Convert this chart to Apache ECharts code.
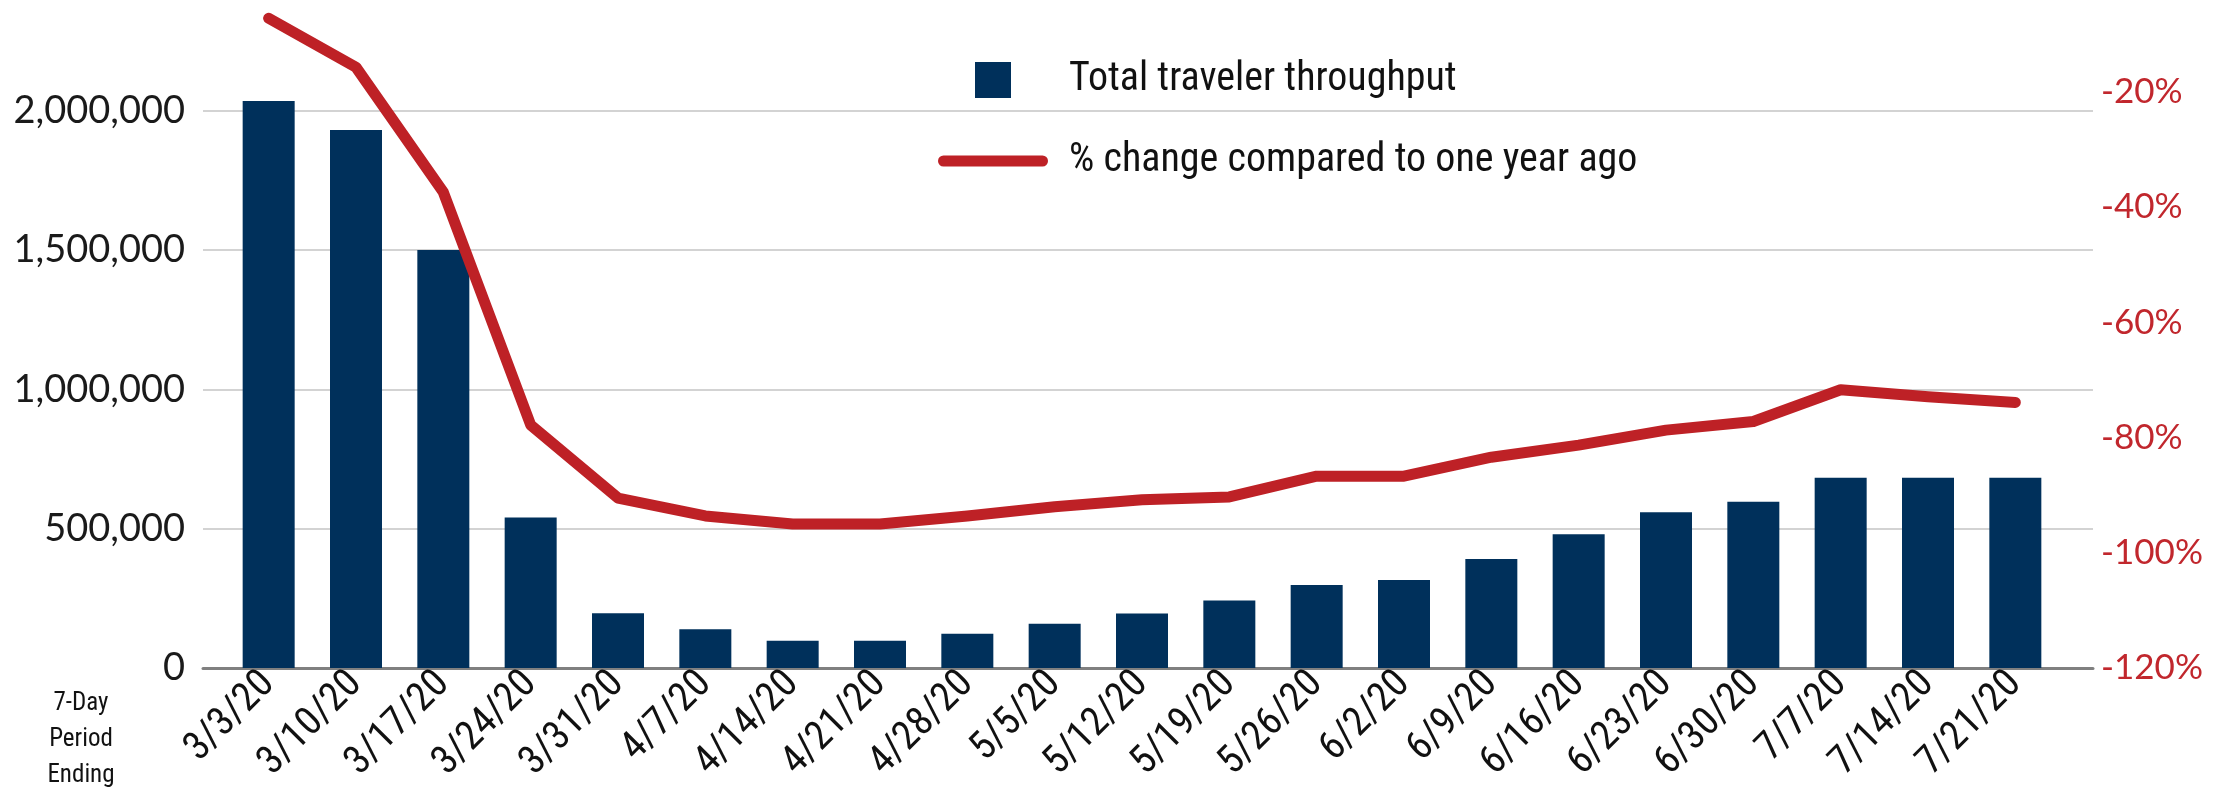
<!DOCTYPE html>
<html>
<head>
<meta charset="utf-8">
<title>Total traveler throughput</title>
<script src="https://cdn.jsdelivr.net/npm/echarts@6/dist/echarts.min.js"></script>
<style>
  html, body { margin: 0; padding: 0; background: #fff; }
  #chart { width: 2229px; height: 792px; }
</style>
</head>
<body>
<div id="chart"></div>
<script>
// 7-day period ending dates
const periods = [
  '3/3/20', '3/10/20', '3/17/20', '3/24/20', '3/31/20', '4/7/20', '4/14/20',
  '4/21/20', '4/28/20', '5/5/20', '5/12/20', '5/19/20', '5/26/20', '6/2/20',
  '6/9/20', '6/16/20', '6/23/20', '6/30/20', '7/7/20', '7/14/20', '7/21/20',
];
// total traveler throughput (bars, left axis)
const throughput = [
  2036000, 1932000, 1501000, 540000, 197000, 139000, 98000,
  98000, 123000, 159000, 196000, 242000, 298000, 316000,
  391000, 480000, 559000, 597000, 683000, 683000, 683000,
];
// % change compared to one year ago (line, right axis)
const pctChange = [
  -7.2, -15.7, -37.4, -77.8, -90.5, -93.6, -95.0,
  -95.0, -93.6, -92.0, -90.8, -90.3, -86.7, -86.7,
  -83.4, -81.3, -78.7, -77.2, -71.7, -72.9, -73.9,
];
const barName = 'Total traveler throughput';
const lineName = '% change compared to one year ago';

// axis ranges
const leftMin = 0;
const leftMax = 2068000;
const leftStep = 500000;
const rightMin = -120;
const rightMax = -20;
const rightStep = 20;

const barColor = '#00305b';
const lineColor = '#be2126';
const narrow = "'Liberation Sans Narrow', 'Roboto Condensed', Roboto, sans-serif";
const plain = "Lato, 'Open Sans', sans-serif";

const chart = echarts.init(document.getElementById('chart'), null, { renderer: 'canvas' });

// grid 0 carries gridlines and axis labels, grid 1 (narrower) carries the bars
const gridTop = 92;
const gridBottom = 124;

const option = {
  backgroundColor: '#fff',
  animation: false,
  grid: [
    { left: 203, right: 136, top: gridTop, bottom: gridBottom, outerBoundsMode: 'none' },
    { left: 225, right: 170, top: gridTop, bottom: gridBottom, outerBoundsMode: 'none' },
  ],
  legend: [
    {
      data: [{ name: barName, icon: 'rect', itemStyle: { color: barColor, borderWidth: 0 } }],
      left: 975,
      top: 60,
      padding: 0,
      itemWidth: 36,
      itemHeight: 36,
      selectedMode: false,
      textStyle: { fontSize: 40, fontFamily: narrow, color: '#111', padding: [0, 0, 0, 53] },
    },
    {
      data: [{
        name: lineName,
        icon: 'path://M5.5,0 H104.5 A5.5,5.5 0 0 1 104.5,11 H5.5 A5.5,5.5 0 0 1 5.5,0 Z',
        itemStyle: { color: lineColor, borderWidth: 0 },
      }],
      left: 938,
      top: 141,
      padding: 0,
      itemWidth: 110,
      itemHeight: 11,
      selectedMode: false,
      textStyle: { fontSize: 40, fontFamily: narrow, color: '#111', padding: [0, 0, 0, 16] },
    },
  ],
  xAxis: [
    {
      type: 'category',
      gridIndex: 0,
      data: periods,
      axisLine: { show: true, lineStyle: { color: '#808080', width: 3 } },
      axisTick: { show: false },
      axisLabel: { show: false },
      splitLine: { show: false },
    },
    {
      type: 'category',
      gridIndex: 1,
      data: periods,
      axisLine: { show: false },
      axisTick: { show: false },
      axisLabel: {
        interval: 0,
        rotate: 45,
        margin: 10,
        fontSize: 40,
        fontFamily: narrow,
        color: '#111',
      },
    },
  ],
  yAxis: [
    {
      type: 'value',
      gridIndex: 0,
      position: 'left',
      min: leftMin,
      max: leftMax,
      interval: leftStep,
      axisLine: { show: false },
      axisTick: { show: false },
      axisLabel: {
        showMaxLabel: false,
        margin: 18,
        fontSize: 38,
        fontFamily: plain,
        color: '#1a1a1a',
        formatter(v) {
          return v % leftStep === 0 ? v.toLocaleString('en-US') : '';
        },
      },
      splitLine: { show: true, showMaxLine: false, lineStyle: { color: '#d3d3d3', width: 2 } },
    },
    {
      type: 'value',
      gridIndex: 0,
      position: 'right',
      min: rightMin,
      max: rightMax,
      interval: rightStep,
      axisLine: { show: false },
      axisTick: { show: false },
      axisLabel: {
        margin: 8,
        fontSize: 35,
        fontFamily: plain,
        color: '#c1272d',
        formatter: '{value}%',
      },
      splitLine: { show: false },
    },
    // hidden copies of the two scales for grid 1
    { type: 'value', gridIndex: 1, min: leftMin, max: leftMax, interval: leftStep, show: false },
    { type: 'value', gridIndex: 1, min: rightMin, max: rightMax, interval: rightStep, show: false },
  ],
  graphic: [
    {
      type: 'text',
      x: 81,
      y: 686,
      style: {
        text: '7-Day\nPeriod\nEnding',
        fontSize: 25,
        lineHeight: 36,
        fontFamily: narrow,
        fill: '#111',
        align: 'center',
        textAlign: 'center',
        verticalAlign: 'top',
      },
    },
  ],
  series: [
    {
      name: barName,
      type: 'bar',
      xAxisIndex: 1,
      yAxisIndex: 2,
      data: throughput,
      barWidth: 52,
      itemStyle: { color: barColor },
    },
    {
      name: lineName,
      type: 'line',
      xAxisIndex: 1,
      yAxisIndex: 3,
      data: pctChange,
      symbol: 'none',
      clip: false,
      z: 5,
      lineStyle: { color: lineColor, width: 11, cap: 'round', join: 'round' },
      itemStyle: { color: lineColor },
    },
  ],
};

chart.setOption(option);
</script>
</body>
</html>
